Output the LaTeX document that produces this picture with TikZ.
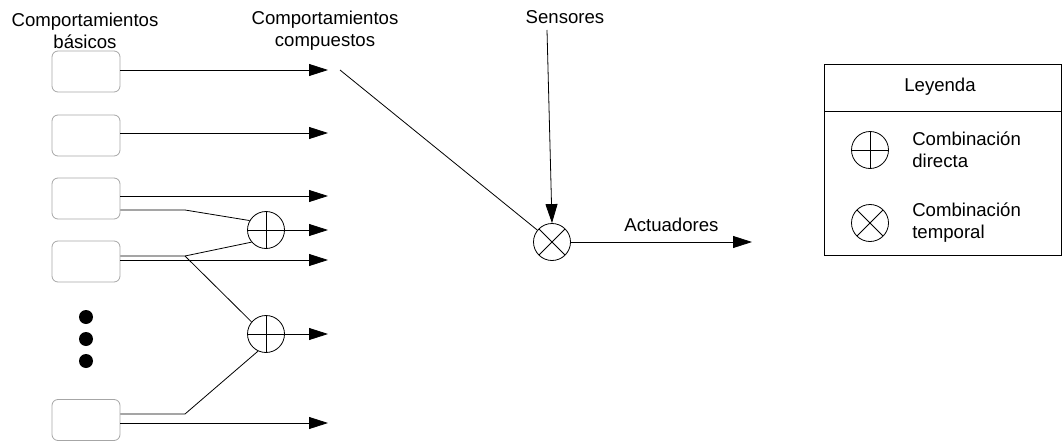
\documentclass[tikz,border=0pt]{standalone}
\usepackage{fontspec}
\setmainfont{Liberation Sans}
\usetikzlibrary{arrows.meta, positioning}
\tikzset{
    behavior/.style={draw=gray!70, rounded corners=6pt, minimum width=68pt, minimum height=41pt}, % the basic behaviour boxes
    combo/.style={circle, draw, minimum size=37pt, inner sep=0pt}, % common part of both combinators
    direct/.style={combo, path picture={\draw (path picture bounding box.north) -- (path picture bounding box.south) (path picture bounding box.west) -- (path picture bounding box.east);}}, % circle with a plus
    temporal/.style={combo, path picture={\draw (path picture bounding box.center) +(45:30pt) -- +(225:30pt) +(135:30pt) -- +(-45:30pt);}}, % circle with a cross
    flow/.style={-{Triangle[length=19pt,width=12pt]}}, % big filled arrow heads
    txt/.style={align=center, inner sep=3pt}, % plain labels
}

\begin{document}
\begin{tikzpicture}[x=1pt, y=-1pt, line width=0.8pt, font=\fontsize{18.6}{22}\selectfont]
\useasboundingbox (0,0) rectangle (1062,441);
% basic behaviours
\node[behavior] (b1) at (86,71.5) {};
\node[behavior] (b2) at (86,135.5) {};
\node[behavior] (b3) at (86,198.5) {};
\node[behavior] (b4) at (86,261.5) {};
\node[behavior] (bn) at (86,420) {};
\foreach \y in {317,339,361} \fill (86,\y) circle (7pt);
\node[txt] (tbas) at (85,31) {Comportamientos\\básicos};
\node[txt] (tcomp) at (325,31) {Comportamientos\\compuestos};
% ends of the output arrows
\coordinate (o1) at (328,70);
\coordinate (o2) at (328,133);
\coordinate (o3) at (328,196);
\coordinate (o4) at (328,230);
\coordinate (o5) at (328,260);
\coordinate (o6) at (328,334);
\coordinate (o7) at (328,423);
% direct combinations
\node[direct] (s1) at (266,230) {};
\node[direct] (s2) at (266,334) {};
\coordinate (j1) at (185,210);
\coordinate (j2) at (185,256);
\coordinate (j3) at (185,414);
\draw[flow] (b1.east |- o1) -- (o1);
\draw[flow] (b2.east |- o2) -- (o2);
\draw[flow] (b3.east |- o3) -- (o3);
\draw[flow] (s1) -- (o4);
\draw[flow] (b4.east |- o5) -- (o5);
\draw[flow] (s2) -- (o6);
\draw[flow] (bn.east |- o7) -- (o7);
\draw (b3.east |- j1) -- (j1) -- (s1.150);
\draw (b4.east |- j2) -- (j2) -- (s1.220);
\draw (j2) -- (s2.140);
\draw (bn.east |- j3) -- (j3) -- (s2.245);
% temporal combination
\node[temporal] (t) at (552,242) {};
\coordinate (cc) at (340,70);
\draw (cc) -- (t);
\node[txt] (sens) at (565,17) {Sensores};
\coordinate (si) at (547,30);
\draw[flow] (si) -- (t.north);
\coordinate (act) at (752,242);
\draw[flow] (t) -- (act) node[txt, pos=0.555, above=7pt] {Actuadores};
% legend
\coordinate (lg1) at (824,64);
\coordinate (lg2) at (1061.5,255);
\draw (lg1) rectangle (lg2);
\draw (lg1 |- 0,111) -- (lg2 |- 0,111);
\node[txt] (ley) at (940,87) {Leyenda};
\node[direct] (ld) at (870,150) {};
\node[txt, align=left, right=20pt of ld] (ldt) {Combinación\\directa};
\node[temporal] (lt) at (870,223) {};
\node[txt, align=left, right=20pt of lt] (ltt) {Combinación\\temporal};
\end{tikzpicture}
\end{document}
